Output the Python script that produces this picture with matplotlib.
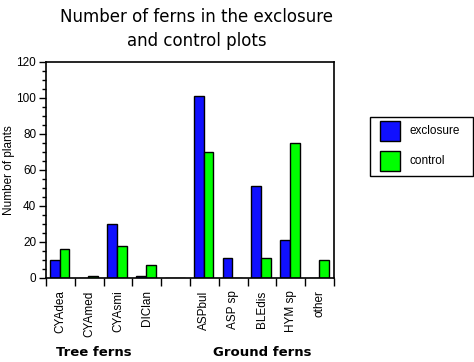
import matplotlib
matplotlib.use("Agg")
import matplotlib.pyplot as plt
import numpy as np
from matplotlib.patches import Rectangle
from matplotlib.ticker import MultipleLocator, FixedLocator

categories = ["CYAdea", "CYAmed", "CYAsmi", "DIClan", "", "ASPbul", "ASP sp", "BLEdis", "HYM sp", "other"]
exclosure = [10, 0, 30, 1, 0, 101, 11, 51, 21, 0]
control = [16, 1, 18, 7, 0, 70, 0, 11, 75, 10]
series_names = ["exclosure", "control"]
colors = ["#1010FF", "#00FF00"]

plt.rcParams['font.family'] = ['Liberation Sans', 'DejaVu Sans']
fig = plt.figure(figsize=(4.74, 3.62), dpi=100)
ax = fig.add_axes([46/474, 1-278/362, (334-46)/474, (278-62)/362])

x = np.arange(len(categories))
w = 0.34
ax.bar(x - w/2 - 0.03, exclosure, width=w, color=colors[0], edgecolor="black", linewidth=1)
ax.bar(x + w/2 - 0.03, control, width=w, color=colors[1], edgecolor="black", linewidth=1)

ax.set_xlim(-0.5, len(categories) - 0.5)
ax.set_ylim(0, 120)
ax.yaxis.set_major_locator(MultipleLocator(20))
ax.yaxis.set_minor_locator(MultipleLocator(5))
ax.tick_params(axis='y', which='major', length=5, width=1, labelsize=8.5, direction='out', pad=2)
ax.tick_params(axis='y', which='minor', length=3, width=1, direction='out')

ax.xaxis.set_major_locator(FixedLocator(np.arange(len(categories) + 1) - 0.5))
ax.xaxis.set_major_formatter(plt.NullFormatter())
ax.xaxis.set_minor_locator(FixedLocator(x))
ax.set_xticklabels(categories, minor=True, rotation=90, fontsize=8.5, va='top')
ax.tick_params(axis='x', which='major', length=6, width=1, direction='out')
ax.tick_params(axis='x', which='minor', length=0, pad=9)

for s in ax.spines.values():
    s.set_linewidth(1.2)

ax.set_ylabel("Number of plants", fontsize=8.5)
ax.yaxis.set_label_coords((15 - 46) / 288, 0.5)

fig.text(197/474, 1-29/362, "Number of ferns in the exclosure\nand control plots",
         ha='center', va='center', fontsize=12, family=['DejaVu Sans'], linespacing=1.4)

fig.text(94/474, 1-352/362, "Tree ferns", ha='center', va='center', fontsize=9.5, fontweight='bold', family=['DejaVu Sans'])
fig.text(262/474, 1-352/362, "Ground ferns", ha='center', va='center', fontsize=9.5, fontweight='bold', family=['DejaVu Sans'])

# legend box
fig.patches.append(Rectangle((370/474, 1-176/362), 103/474, 59/362, transform=fig.transFigure,
                             facecolor='white', edgecolor='black', linewidth=1))
for i, name in enumerate(series_names):
    ytop = 121 + i * 30
    fig.patches.append(Rectangle((380/474, 1-(ytop+20)/362), 20/474, 20/362, transform=fig.transFigure,
                                 facecolor=colors[i], edgecolor='black', linewidth=1))
    fig.text(410/474, 1-(ytop+10)/362, name, ha='left', va='center', fontsize=8.5)

fig.savefig("out.png", dpi=100)
